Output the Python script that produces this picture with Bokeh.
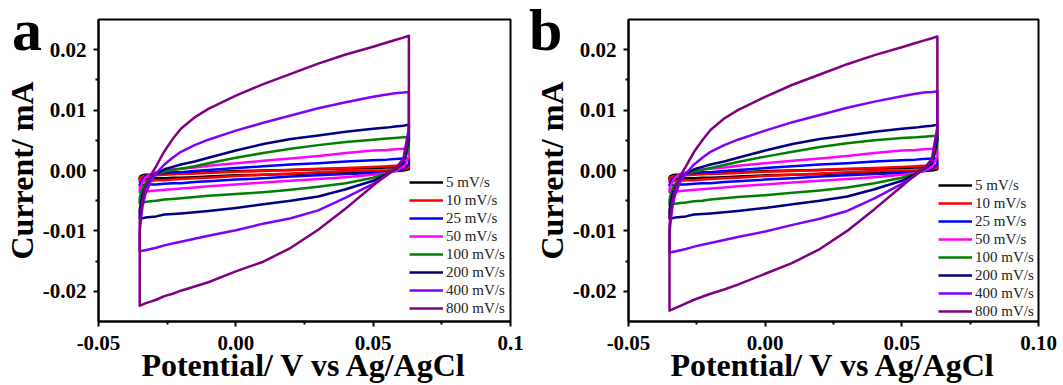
from bokeh.plotting import figure
from bokeh.models import FixedTicker, Legend, LegendItem, Range1d, Div
from bokeh.layouts import row
from bokeh.embed import file_html
from bokeh.resources import INLINE

# ---------------- data ----------------
potential = [-0.035, -0.034, -0.033, -0.031, -0.029, -0.026, -0.023, -0.020, -0.015, -0.010, 0.000,
             0.010, 0.020, 0.030, 0.040, 0.050, 0.055, 0.058, 0.061, 0.063]
rates = ["5 mV/s", "10 mV/s", "25 mV/s", "50 mV/s", "100 mV/s", "200 mV/s", "400 mV/s", "800 mV/s"]
colors = ["#000000", "#FF0000", "#0000FF", "#FF00FF", "#008000", "#000080", "#8000FF", "#800080"]
x_ticks = [-0.05, 0.0, 0.05, 0.1]
x_labels_a = ["-0.05", "0.00", "0.05", "0.1"]
x_labels_b = ["-0.05", "0.00", "0.05", "0.10"]
y_ticks = [-0.02, -0.01, 0.0, 0.01, 0.02]
y_labels = ["-0.02", "-0.01", "0.00", "0.01", "0.02"]

# anodic (upper, "up") and cathodic (lower, "dn") branches, current in mA on the potential grid
a_5_up = [-0.0010, -0.0008, -0.0007, -0.0007, -0.0006, -0.0006, -0.0006, -0.0005, -0.0004, -0.0003, -0.0001, 0.0000, 0.0001, 0.0002, 0.0003, 0.0004, 0.0005, 0.0005, 0.0006, 0.0006]
a_5_dn = [-0.0014, -0.0014, -0.0014, -0.0013, -0.0013, -0.0013, -0.0012, -0.0012, -0.0011, -0.0010, -0.0008, -0.0007, -0.0006, -0.0004, -0.0003, -0.0002, -0.0001, -0.0001, 0.0000, 0.0002]
a_10_up = [-0.0013, -0.0010, -0.0009, -0.0008, -0.0008, -0.0007, -0.0006, -0.0006, -0.0005, -0.0004, -0.0002, -0.0001, 0.0001, 0.0003, 0.0004, 0.0006, 0.0007, 0.0008, 0.0008, 0.0009]
a_10_dn = [-0.0018, -0.0018, -0.0017, -0.0017, -0.0016, -0.0016, -0.0015, -0.0014, -0.0013, -0.0012, -0.0009, -0.0007, -0.0005, -0.0003, -0.0001, 0.0000, 0.0000, 0.0001, 0.0002, 0.0004]
a_25_up = [-0.0022, -0.0015, -0.0010, -0.0007, -0.0005, -0.0004, -0.0003, -0.0003, -0.0001, 0.0001, 0.0004, 0.0007, 0.0010, 0.0012, 0.0015, 0.0017, 0.0018, 0.0019, 0.0020, 0.0020]
a_25_dn = [-0.0025, -0.0024, -0.0024, -0.0023, -0.0023, -0.0022, -0.0021, -0.0021, -0.0019, -0.0018, -0.0015, -0.0013, -0.0010, -0.0008, -0.0006, -0.0004, -0.0003, -0.0001, 0.0003, 0.0010]
a_50_up = [-0.0030, -0.0020, -0.0012, -0.0006, -0.0003, 0.0000, 0.0002, 0.0003, 0.0005, 0.0008, 0.0012, 0.0016, 0.0020, 0.0024, 0.0029, 0.0033, 0.0034, 0.0035, 0.0036, 0.0037]
a_50_dn = [-0.0036, -0.0035, -0.0035, -0.0034, -0.0033, -0.0032, -0.0031, -0.0030, -0.0028, -0.0026, -0.0023, -0.0020, -0.0017, -0.0014, -0.0011, -0.0007, -0.0004, -0.0001, 0.0006, 0.0022]
a_100_up = [-0.0045, -0.0030, -0.0022, -0.0011, -0.0006, -0.0002, 0.0001, 0.0003, 0.0007, 0.0012, 0.0021, 0.0029, 0.0036, 0.0042, 0.0047, 0.0051, 0.0053, 0.0054, 0.0055, 0.0055]
a_100_dn = [-0.0054, -0.0053, -0.0052, -0.0051, -0.0050, -0.0048, -0.0047, -0.0046, -0.0044, -0.0042, -0.0039, -0.0036, -0.0032, -0.0027, -0.0021, -0.0012, -0.0005, 0.0001, 0.0012, 0.0038]
a_200_up = [-0.0065, -0.0040, -0.0028, -0.0013, -0.0005, 0.0002, 0.0006, 0.0010, 0.0015, 0.0021, 0.0033, 0.0044, 0.0052, 0.0058, 0.0064, 0.0069, 0.0071, 0.0073, 0.0074, 0.0076]
a_200_dn = [-0.0080, -0.0079, -0.0078, -0.0077, -0.0076, -0.0073, -0.0072, -0.0071, -0.0069, -0.0067, -0.0062, -0.0056, -0.0050, -0.0043, -0.0031, -0.0017, -0.0006, 0.0002, 0.0012, 0.0050]
a_400_up = [-0.0100, -0.0060, -0.0040, -0.0018, -0.0005, 0.0010, 0.0021, 0.0031, 0.0042, 0.0051, 0.0066, 0.0079, 0.0091, 0.0103, 0.0113, 0.0122, 0.0126, 0.0128, 0.0129, 0.0130]
a_400_dn = [-0.0134, -0.0133, -0.0132, -0.0130, -0.0128, -0.0124, -0.0121, -0.0118, -0.0113, -0.0108, -0.0099, -0.0088, -0.0079, -0.0066, -0.0045, -0.0022, -0.0008, 0.0002, 0.0020, 0.0070]
a_800_up = [-0.0085, -0.0050, -0.0030, -0.0008, 0.0007, 0.0032, 0.0052, 0.0069, 0.0088, 0.0102, 0.0124, 0.0143, 0.0160, 0.0177, 0.0192, 0.0205, 0.0212, 0.0216, 0.0220, 0.0223]
a_800_dn = [-0.0224, -0.0222, -0.0220, -0.0217, -0.0214, -0.0208, -0.0204, -0.0199, -0.0192, -0.0185, -0.0167, -0.0151, -0.0128, -0.0098, -0.0063, -0.0025, -0.0007, 0.0003, 0.0016, 0.0060]

b_5_up, b_5_dn = a_5_up, a_5_dn
b_10_up, b_10_dn = a_10_up, a_10_dn
b_25_up, b_25_dn = a_25_up, a_25_dn
b_50_up, b_50_dn = a_50_up, a_50_dn
b_100_up = [-0.0047, -0.0031, -0.0023, -0.0012, -0.0006, -0.0002, 0.0001, 0.0004, 0.0009, 0.0014, 0.0023, 0.0031, 0.0039, 0.0045, 0.0050, 0.0054, 0.0055, 0.0056, 0.0057, 0.0057]
b_100_dn = [-0.0057, -0.0056, -0.0055, -0.0054, -0.0053, -0.0051, -0.0050, -0.0048, -0.0046, -0.0044, -0.0041, -0.0037, -0.0033, -0.0028, -0.0021, -0.0012, -0.0005, 0.0001, 0.0013, 0.0040]
b_200_up, b_200_dn = a_200_up, a_200_dn
b_400_up = [-0.0102, -0.0062, -0.0041, -0.0018, -0.0005, 0.0010, 0.0021, 0.0031, 0.0042, 0.0051, 0.0066, 0.0080, 0.0092, 0.0104, 0.0114, 0.0123, 0.0127, 0.0129, 0.0130, 0.0131]
b_400_dn = [-0.0136, -0.0135, -0.0134, -0.0132, -0.0130, -0.0126, -0.0123, -0.0120, -0.0115, -0.0110, -0.0101, -0.0090, -0.0080, -0.0067, -0.0046, -0.0022, -0.0008, 0.0002, 0.0020, 0.0072]
b_800_up = [-0.0090, -0.0052, -0.0031, -0.0008, 0.0007, 0.0031, 0.0050, 0.0067, 0.0086, 0.0100, 0.0122, 0.0142, 0.0159, 0.0176, 0.0191, 0.0204, 0.0211, 0.0215, 0.0219, 0.0222]
b_800_dn = [-0.0232, -0.0230, -0.0228, -0.0224, -0.0220, -0.0214, -0.0209, -0.0204, -0.0197, -0.0189, -0.0171, -0.0153, -0.0130, -0.0100, -0.0064, -0.0026, -0.0007, 0.0003, 0.0016, 0.0062]

panel_a = [(a_5_up, a_5_dn), (a_10_up, a_10_dn), (a_25_up, a_25_dn), (a_50_up, a_50_dn),
           (a_100_up, a_100_dn), (a_200_up, a_200_dn), (a_400_up, a_400_dn), (a_800_up, a_800_dn)]
panel_b = [(b_5_up, b_5_dn), (b_10_up, b_10_dn), (b_25_up, b_25_dn), (b_50_up, b_50_dn),
           (b_100_up, b_100_dn), (b_200_up, b_200_dn), (b_400_up, b_400_dn), (b_800_up, b_800_dn)]

FONT = "Liberation Serif"


def make_panel(curves, xlabels, width, bl, br, bt, bb, legend_loc):
    p = figure(width=width, height=385, output_backend="svg", toolbar_location=None,
               x_range=Range1d(-0.05, 0.1), y_range=Range1d(-0.025, 0.025),
               min_border_left=bl, min_border_right=br, min_border_top=bt, min_border_bottom=bb)
    p.grid.visible = False
    p.outline_line_color = "black"
    p.outline_line_width = 2
    p.background_fill_color = "white"
    p.border_fill_color = "white"

    items = []
    for (up, dn), lab, col in zip(curves, rates, colors):
        xs = potential + potential[::-1] + [potential[0]]
        ys = up + dn[::-1] + [up[0]]
        r = p.line(xs, ys, line_color=col, line_width=2.5, line_join="round")
        items.append(LegendItem(label=lab, renderers=[r]))

    leg = Legend(items=items, location=legend_loc, glyph_width=34, glyph_height=18,
                 label_height=18, spacing=0, padding=0, margin=0, label_standoff=3,
                 label_text_font=FONT, label_text_font_size="15px", label_text_color="#222222",
                 border_line_alpha=0, background_fill_alpha=0)
    p.add_layout(leg)

    for ax in (p.xaxis[0], p.yaxis[0]):
        ax.axis_line_width = 2
        ax.major_tick_line_width = 2
        ax.minor_tick_line_width = 2
        ax.major_tick_in = 0
        ax.major_tick_out = 5
        ax.minor_tick_in = 0
        ax.minor_tick_out = 3
        ax.major_label_text_font = FONT
        ax.major_label_text_font_style = "bold"
        ax.major_label_text_font_size = "21px"
        ax.major_label_text_color = "black"
        ax.axis_label_text_font = FONT
        ax.axis_label_text_font_style = "bold"
        ax.axis_label_text_font_size = "32px"
        ax.axis_label_text_color = "black"

    p.xaxis.ticker = FixedTicker(ticks=x_ticks, minor_ticks=[-0.025, 0.025, 0.075])
    p.xaxis.major_label_overrides = {t: l for t, l in zip(x_ticks, xlabels)}
    p.yaxis.ticker = FixedTicker(ticks=y_ticks, minor_ticks=[-0.015, -0.005, 0.005, 0.015])
    p.yaxis.major_label_overrides = {t: l for t, l in zip(y_ticks, y_labels)}
    p.xaxis.axis_label = "Potential/ V vs Ag/AgCl"
    p.yaxis.axis_label = "Current/ mA"
    p.xaxis.major_label_standoff = 9
    p.yaxis.major_label_standoff = 7
    p.xaxis.axis_label_standoff = -6
    p.yaxis.axis_label_standoff = 0
    return p


def make_letter(letter, left):
    # panel letter as an absolutely positioned text block over the top-left corner of its panel
    html = ('<div style="font-family:\'Liberation Serif\',serif;font-weight:bold;font-size:60px;'
            'line-height:60px;color:black;margin:0;padding:0;">' + letter + '</div>')
    return Div(text=html, styles={"position": "absolute", "left": f"{left}px", "top": "0px",
                                  "z-index": "10", "margin": "0", "padding": "0"})


pa = make_panel(panel_a, x_labels_a, 530, 98, 20, 19, 62, (311, 4))
pb = make_panel(panel_b, x_labels_b, 533, 94, 25, 19, 62, (310, 1))
la = make_letter("a", 12)
lb = make_letter("b", 529)

layout = row(pa, pb, la, lb, spacing=0)
open("out.html", "w").write(file_html(layout, INLINE))
